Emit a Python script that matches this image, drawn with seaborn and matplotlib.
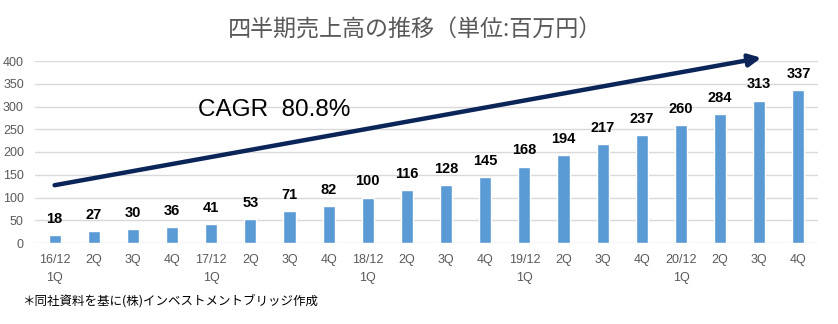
import matplotlib
matplotlib.use("Agg")
import matplotlib.pyplot as plt
import seaborn as sns
import pandas as pd

categories = ["16/12\n1Q", "2Q", "3Q", "4Q", "17/12\n1Q", "2Q", "3Q", "4Q",
              "18/12\n1Q", "2Q", "3Q", "4Q", "19/12\n1Q", "2Q", "3Q", "4Q",
              "20/12\n1Q", "2Q", "3Q", "4Q"]
sales = [18, 27, 30, 36, 41, 53, 71, 82, 100, 116, 128, 145, 168, 194, 217,
         237, 260, 284, 313, 337]
yticks = [0, 50, 100, 150, 200, 250, 300, 350, 400]
title = "四半期売上高の推移（単位:百万円）"
cagr_text = "CAGR  80.8%"
footnote = "＊同社資料を基に(株)インベストメントブリッジ作成"

sns.set_theme(style="white")
plt.rcParams['font.family'] = ['Noto Sans CJK JP', 'DejaVu Sans']
latin = 'Liberation Sans'

df = pd.DataFrame({"idx": list(range(len(sales))), "sales": sales})

fig = plt.figure(figsize=(8.38, 3.24), dpi=100)
ax = fig.add_axes([35/838, 1-243/324, (818-35)/838, (243-61)/324])

sns.barplot(data=df, x="idx", y="sales", color="#5B9BD5", width=0.31,
            saturation=1, ax=ax, zorder=3)

ax.set_ylim(0, 400)
ax.set_yticks(yticks)
ax.set_yticklabels([str(v) for v in yticks], color="#595959", fontsize=9,
                   family=latin)
ax.set_xticks(range(len(categories)))
ax.set_xticklabels(categories, color="#595959", fontsize=9, family=latin,
                   linespacing=1.7, multialignment="center", ha="center")
ax.tick_params(axis="both", length=0)
ax.tick_params(axis="x", pad=8)
ax.tick_params(axis="y", pad=8)
ax.set_xlabel("")
ax.set_ylabel("")
for s in ax.spines.values():
    s.set_visible(False)
ax.yaxis.grid(True, color="#D9D9D9", linewidth=1)
ax.set_axisbelow(True)
ax.set_xlim(-0.5, len(sales) - 0.5)

for i, v in enumerate(sales):
    ax.text(i, v + 20, str(v), ha="center", va="bottom", fontsize=10.5,
            fontweight="bold", color="black", family=latin)

ax.annotate("", xy=(18.05, 407), xytext=(0, 127),
            arrowprops=dict(arrowstyle="-|>,head_length=0.6,head_width=0.3",
                            color="#0B2559", lw=3.2, shrinkA=0, shrinkB=0),
            annotation_clip=False)

ax.text(5.6, 292, cagr_text, ha="center", va="center", fontsize=17.5,
        color="black", family=latin)

fig.text(415/838, 1-30/324, title, ha="center", va="center", fontsize=16.6,
         color="#595959")
fig.text(22/838, 1-301/324, footnote, ha="left", va="center", fontsize=9,
         color="black")

fig.savefig("out.png", dpi=100)
